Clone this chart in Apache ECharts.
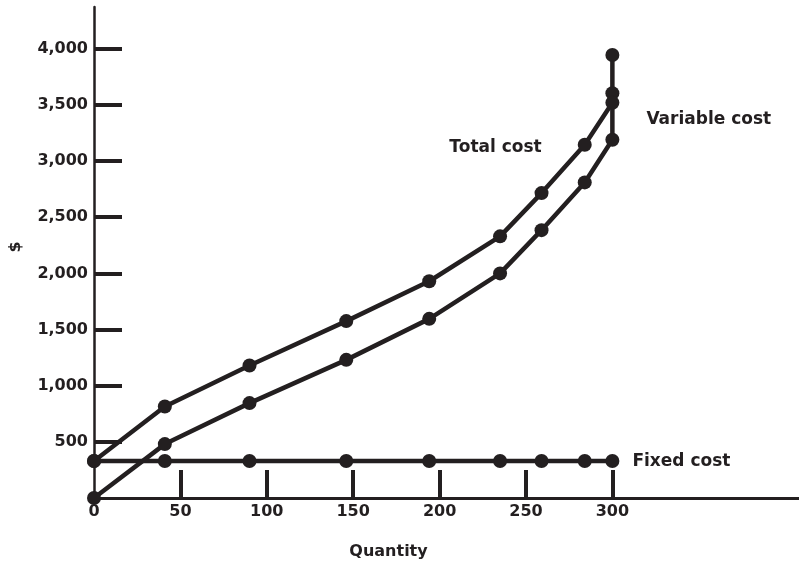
<!DOCTYPE html>
<html>
<head>
<meta charset="utf-8">
<script src="https://cdn.jsdelivr.net/npm/echarts@6/dist/echarts.min.js"></script>
<style>
  html, body { margin: 0; padding: 0; background: #ffffff; }
  #chart { width: 799px; height: 567px; }
</style>
</head>
<body>
<div id="chart"></div>
<script>
// Cost curves: quantity produced vs. dollars
const quantity      = [0, 41, 90, 146, 194, 235, 259, 284, 300, 300];
const totalCost     = [330, 815, 1180, 1575, 1930, 2330, 2715, 3145, 3520, 3945];
const variableCost  = [0, 480, 845, 1230, 1595, 2000, 2385, 2810, 3190, 3605];
const fixedQuantity = [0, 41, 90, 146, 194, 235, 259, 284, 300];
const fixedCost     = [330, 330, 330, 330, 330, 330, 330, 330, 330];

const xTickValues  = [50, 100, 150, 200, 250, 300];
const xLabelValues = [0, 50, 100, 150, 200, 250, 300];
const yTickValues  = [500, 1000, 1500, 2000, 2500, 3000, 3500, 4000];

const INK = '#231f20';
const FONT = 'DejaVu Sans';

function pairs(xs, ys, labelIndex, label) {
  return ys.map((y, i) => {
    const item = { value: [xs[i], y] };
    if (i === labelIndex) item.label = label;
    return item;
  });
}

function nameLabel(text, position, distance, offset) {
  return {
    show: true,
    position: position,
    distance: distance,
    offset: offset,
    formatter: text,
    color: INK,
    fontFamily: FONT,
    fontWeight: 'bold',
    fontSize: 17
  };
}

const lineSeries = (name, data) => ({
  name: name,
  type: 'line',
  data: data,
  symbol: 'circle',
  symbolSize: 14,
  clip: false,
  silent: true,
  animation: false,
  itemStyle: { color: INK },
  lineStyle: { color: INK, width: 4.5 }
});

const chart = echarts.init(document.getElementById('chart'), null, { renderer: 'canvas' });

chart.setOption({
  backgroundColor: '#ffffff',
  animation: false,
  grid: { left: 93, right: 0, top: 7, bottom: 69, containLabel: false },
  xAxis: {
    type: 'value',
    min: 0,
    max: 408,
    name: 'Quantity',
    nameLocation: 'middle',
    nameGap: 46,
    nameTextStyle: {
      color: INK, fontFamily: FONT, fontWeight: 'bold', fontSize: 16,
      padding: [0, 116, 0, 0]
    },
    axisLine: { show: true, lineStyle: { color: INK, width: 3 } },
    axisTick: {
      show: true, inside: true, length: 28,
      customValues: xTickValues,
      lineStyle: { color: INK, width: 4 }
    },
    axisLabel: {
      customValues: xLabelValues,
      margin: 6,
      color: INK, fontFamily: FONT, fontWeight: 'bold', fontSize: 16
    },
    splitLine: { show: false }
  },
  yAxis: {
    type: 'value',
    min: 0,
    max: 4372,
    name: '$',
    nameLocation: 'middle',
    nameGap: 70,
    nameTextStyle: {
      color: INK, fontFamily: FONT, fontWeight: 'bold', fontSize: 16,
      padding: [0, 0, 0, 11]
    },
    axisLine: { show: true, lineStyle: { color: INK, width: 2.5 } },
    axisTick: {
      show: true, inside: true, length: 28,
      customValues: yTickValues,
      lineStyle: { color: INK, width: 4 }
    },
    axisLabel: {
      customValues: yTickValues,
      margin: 6,
      formatter: v => v.toLocaleString('en-US'),
      color: INK, fontFamily: FONT, fontWeight: 'bold', fontSize: 16
    },
    splitLine: { show: false }
  },
  series: [
    lineSeries('Fixed cost', pairs(fixedQuantity, fixedCost, fixedCost.length - 1,
      nameLabel('Fixed cost', 'right', 13, [0, 1]))),
    lineSeries('Variable cost', pairs(quantity, variableCost, 8,
      nameLabel('Variable cost', 'right', 27, [0, -20]))),
    lineSeries('Total cost', pairs(quantity, totalCost, 7,
      nameLabel('Total cost', 'left', 36, [0, 3])))
  ]
});
</script>
</body>
</html>
